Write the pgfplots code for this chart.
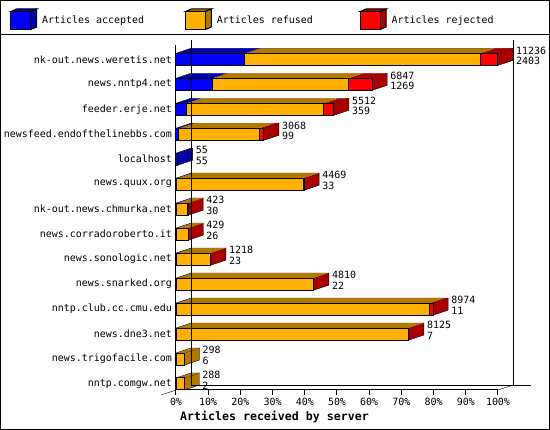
\documentclass[border=0pt]{standalone}
\usepackage{fontspec}
\setmainfont{DejaVu Sans Mono}
\usepackage{pgfplots}
\usepackage{pgfplotstable}
\pgfplotsset{compat=1.18}

\definecolor{cAcc}{RGB}{0,0,255}
\definecolor{cAccD}{RGB}{0,0,170}
\definecolor{cRef}{RGB}{255,176,0}
\definecolor{cRefD}{RGB}{176,121,0}
\definecolor{cRej}{RGB}{255,0,0}
\definecolor{cRejD}{RGB}{170,0,0}

\newcommand\numfont{\fontsize{9.96}{10.7}\selectfont}

% legend icon: small cube, front colour and shaded colour
\newcommand\cube[2]{%
  \filldraw[fill=#2] (0pt,9pt) -- (6pt,11.5pt) -- (26pt,11.5pt) -- (20pt,9pt) -- cycle;
  \filldraw[fill=#2] (20pt,9pt) -- (26pt,11.5pt) -- (26pt,-6.5pt) -- (20pt,-9pt) -- cycle;
  \filldraw[fill=#1] (0pt,-9pt) rectangle (20pt,9pt);
}

% rows listed bottom-up
\pgfplotstableread{
name acc ref rej
nntp.comgw.net 2 286 0
news.trigofacile.com 6 292 0
news.dne3.net 7 8108 10
nntp.club.cc.cmu.edu 11 8835 128
news.snarked.org 22 4773 15
news.sonologic.net 23 1185 10
news.corradoroberto.it 26 395 8
nk-out.news.chmurka.net 30 385 8
news.quux.org 33 4416 20
localhost 55 0 0
newsfeed.endofthelinebbs.com 99 2806 163
feeder.erje.net 359 4804 349
news.nntp4.net 1269 4741 837
nk-out.news.weretis.net 2403 8213 620
}\data

\begin{document}
\begin{tikzpicture}[line width=1pt, font=\fontsize{9.96}{11}\selectfont]
\path[use as bounding box] (0,0) rectangle (550pt,430pt);
\begin{axis}[
    at={(176pt,40pt)}, anchor=south west
  , scale only axis, width=322pt, height=345pt
  , clip=false
  , xbar stacked, bar width=12pt
  , xmin=0, xmax=11236
  , ymin=-0.24, ymax=13.573
  , axis x line*=bottom, axis y line*=left
  , axis line style={line width=1pt, black}
  , scaled x ticks=false
  , xtick={0,1123.6,2247.2,3370.8,4494.4,5618,6741.6,7865.2,8988.8,10112.4,11236}
  , xticklabels={0\%,10\%,20\%,30\%,40\%,50\%,60\%,70\%,80\%,90\%,100\%}
  , tick align=outside, major tick length=5pt
  , x tick style={line width=1pt, black}
  , ytick={0,...,13}
  , yticklabels from table={\data}{name}
  , y tick style={draw=none}
  , yticklabel style={xshift=4.3pt}
  , xlabel={Articles received by server}
  , xlabel style={font=\bfseries\fontsize{11.6}{13}\selectfont,
      at={(axis description cs:0.0124,0)}, anchor=west, yshift=-26.7pt, inner sep=0pt}
  , legend columns=3
  , legend style={at={(-0.5155,1.1064)}, anchor=north west, draw=none, fill=none,
      inner sep=0pt, nodes={inner sep=0pt},
      /tikz/every odd column/.append style={column sep=5pt}}
  ]
% back wall of the 3D box
\draw ([shift={(15pt,5pt)}]rel axis cs:0,0) -- ([shift={(15pt,5pt)}]rel axis cs:0,1);
\draw ([shift={(15pt,5pt)}]rel axis cs:0,0) -- ([shift={(33pt,5pt)}]rel axis cs:1,0);
\draw ([shift={(15pt,5pt)}]rel axis cs:1,0) -- ([shift={(15pt,5pt)}]rel axis cs:1,1);
\draw (rel axis cs:1,0) -- ++(15pt,5pt);
\draw (rel axis cs:0,0) -- ++(-15pt,-5pt);

\addplot[fill=cAcc, draw=black, line width=1pt,
  legend image code/.code={\cube{cAcc}{cAccD}}]
  table[x=acc, y expr=\coordindex] {\data};
\addlegendentry{\makebox[142.7pt][l]{Articles accepted}}
\addplot[fill=cRef, draw=black, line width=1pt,
  legend image code/.code={\cube{cRef}{cRefD}}]
  table[x=ref, y expr=\coordindex] {\data};
\addlegendentry{\makebox[142.7pt][l]{Articles refused}}
\addplot[fill=cRej, draw=black, line width=1pt,
  legend image code/.code={\cube{cRej}{cRejD}}]
  table[x=rej, y expr=\coordindex] {\data};
\addlegendentry{Articles rejected}

% top and side faces, and the two numbers (total, accepted)
\pgfplotsinvokeforeach{0,...,13}{
  \pgfplotstablegetelem{#1}{acc}\of\data \let\va\pgfplotsretval
  \pgfplotstablegetelem{#1}{ref}\of\data \let\vr\pgfplotsretval
  \pgfplotstablegetelem{#1}{rej}\of\data \let\vj\pgfplotsretval
  \pgfmathtruncatemacro\eb{\va+\vr}
  \pgfmathtruncatemacro\ec{\va+\vr+\vj}
  \ifnum\vj>0 \def\sc{cRejD}\else\ifnum\vr>0 \def\sc{cRefD}\else\def\sc{cAccD}\fi\fi
  \edef\faces{%
    \noexpand\fill[cAccD] ([yshift=6pt]axis cs:0,#1) -- ([yshift=6pt]axis cs:\va,#1)
      -- ([shift={(15pt,11pt)}]axis cs:\va,#1) -- ([shift={(15pt,11pt)}]axis cs:0,#1) -- cycle;
    \noexpand\fill[cRefD] ([yshift=6pt]axis cs:\va,#1) -- ([yshift=6pt]axis cs:\eb,#1)
      -- ([shift={(15pt,11pt)}]axis cs:\eb,#1) -- ([shift={(15pt,11pt)}]axis cs:\va,#1) -- cycle;
    \noexpand\fill[cRejD] ([yshift=6pt]axis cs:\eb,#1) -- ([yshift=6pt]axis cs:\ec,#1)
      -- ([shift={(15pt,11pt)}]axis cs:\ec,#1) -- ([shift={(15pt,11pt)}]axis cs:\eb,#1) -- cycle;
    \noexpand\filldraw[fill=\sc] ([yshift=-6pt]axis cs:\ec,#1) -- ([yshift=6pt]axis cs:\ec,#1)
      -- ([shift={(15pt,11pt)}]axis cs:\ec,#1) -- ([shift={(15pt,-1pt)}]axis cs:\ec,#1) -- cycle;
    \noexpand\draw ([yshift=6pt]axis cs:0,#1) -- ([shift={(15pt,11pt)}]axis cs:0,#1)
      -- ([shift={(15pt,11pt)}]axis cs:\ec,#1);
    \noexpand\node[anchor=west, align=left, inner sep=0pt, font=\noexpand\numfont]
      at ([shift={(18pt,3.5pt)}]axis cs:\ec,#1) {\ec\noexpand\\\va};
  }\faces
}
\end{axis}
\draw (0.5pt,0.5pt) rectangle (549.5pt,429.5pt);
\draw (0,395pt) -- (550pt,395pt);
\end{tikzpicture}
\end{document}
